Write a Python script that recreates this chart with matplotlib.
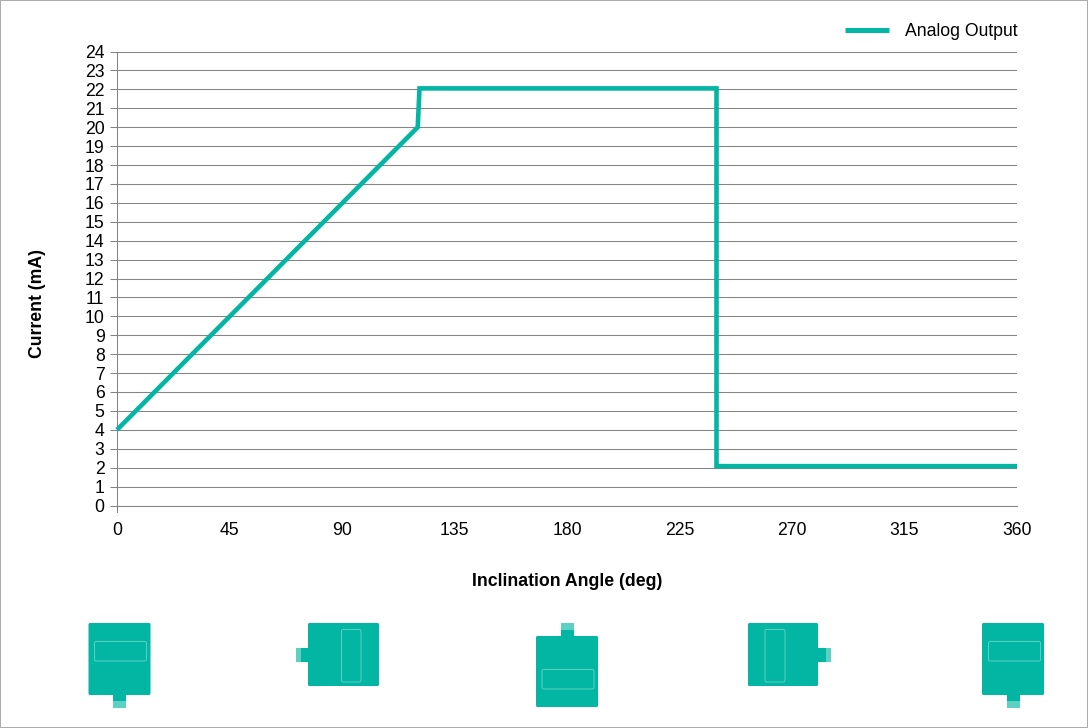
import matplotlib
matplotlib.use('Agg')
import matplotlib.pyplot as plt
from matplotlib.patches import FancyBboxPatch, Rectangle

plt.rcParams['font.family'] = ['Liberation Sans', 'DejaVu Sans']

angle = [0, 120.3, 121, 239.8, 239.8, 360]
current = [4, 20, 22.05, 22.05, 2.08, 2.08]
x_ticks = [0, 45, 90, 135, 180, 225, 270, 315, 360]
y_ticks = list(range(0, 25))

W, H = 1088, 728
TEAL = '#03b5a3'
LIGHT = '#5dd0c4'
GRID = '#848484'
FS = 12.7

# x0, y0, x1, y1 in pixels from the top left
icon_bodies = [(88.5, 623, 150.5, 695), (308, 623, 379, 686), (536, 636, 598, 707),
               (748, 623, 818, 686), (982, 623, 1044, 695)]
icon_tabs = [(113, 695, 126, 708), (296, 648, 308, 662), (560.5, 623, 574, 636),
             (818, 648, 831, 662), (1007, 695, 1020, 708)]
icon_stripes = [(113, 701, 126, 708), (296, 648, 301, 662), (560.5, 623, 574, 630),
                (826, 648, 831, 662), (1007, 701, 1020, 708)]
icon_windows = [(94.5, 641.5, 146.5, 661), (341.5, 629.5, 361, 682), (542, 669.5, 594, 689),
                (765, 629.5, 785, 682), (988.5, 641.5, 1040.5, 661)]

fig = plt.figure(figsize=(W / 100, H / 100), dpi=100, facecolor='white',
                 edgecolor='#ababab', linewidth=1.44)
ax = fig.add_axes([117 / W, 1 - 505.5 / H, 900 / W, 454 / H])

ax.plot(angle, current, color=TEAL, lw=3.3, solid_joinstyle='miter', solid_capstyle='butt',
        clip_on=False, label='Analog Output', zorder=3)

ax.set_xlim(0, 360)
ax.set_ylim(0, 24)
ax.set_xticks(x_ticks)
ax.set_yticks(y_ticks)
ax.tick_params(axis='both', labelsize=FS, colors='black')
ax.tick_params(axis='y', length=5, width=0.75, color=GRID, pad=4)
ax.tick_params(axis='x', length=0, pad=12)
ax.grid(axis='y', color=GRID, lw=0.75)
ax.set_axisbelow(True)

for side in ['top', 'right']:
    ax.spines[side].set_visible(False)
ax.spines['left'].set_color(GRID)
ax.spines['bottom'].set_color(GRID)
ax.spines['left'].set_linewidth(0.75)
ax.spines['bottom'].set_linewidth(0.75)
ax.spines['left'].set_bounds(0, 24)
ax.plot([0, 0], [0, -0.33], color=GRID, lw=0.75, clip_on=False)

fig.text(38 / W, 1 - 303 / H, 'Current (mA)', rotation=90, ha='center', va='center',
         fontsize=FS, fontweight='bold')
fig.text(567.5 / W, 1 - 581.5 / H, 'Inclination Angle (deg)', ha='center', va='center',
         fontsize=FS, fontweight='bold')

leg = ax.legend(loc='upper right', bbox_to_anchor=(1018 / W, 1 - 23 / H), bbox_transform=fig.transFigure,
                frameon=False, fontsize=FS, handlelength=2.5, handletextpad=0.95,
                borderpad=0, borderaxespad=0)
leg.get_lines()[0].set_linewidth(3.6)

# pixel overlay for the orientation icons
over = fig.add_axes([0, 0, 1, 1], facecolor='none')
over.set_xlim(0, W)
over.set_ylim(H, 0)
over.axis('off')


def box(b, **kw):
    return Rectangle((b[0], b[1]), b[2] - b[0], b[3] - b[1], **kw)


def rounded(b, r, **kw):
    return FancyBboxPatch((b[0] + r, b[1] + r), b[2] - b[0] - 2 * r, b[3] - b[1] - 2 * r,
                          boxstyle=f'round,pad={r},rounding_size={r}', **kw)


for body, tab, stripe, win in zip(icon_bodies, icon_tabs, icon_stripes, icon_windows):
    over.add_patch(box(tab, fc=TEAL, ec='none'))
    over.add_patch(box(stripe, fc=LIGHT, ec='none'))
    over.add_patch(rounded(body, 1.5, fc=TEAL, ec='none'))
    over.add_patch(rounded(win, 1.5, fc='none', ec=LIGHT, lw=0.7))

fig.savefig('out.png', dpi=100)
